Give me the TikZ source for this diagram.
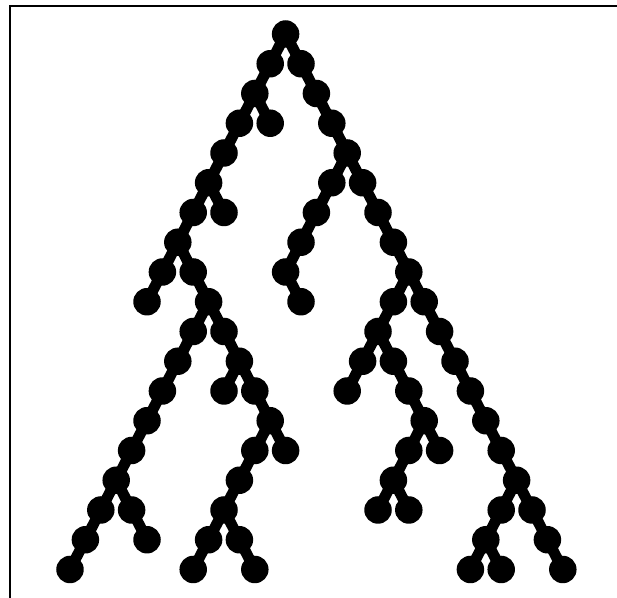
\documentclass[tikz,border=0pt]{standalone}
\usepackage{tikz}
\tikzset{
  bead/.style={circle, fill=black, inner sep=0pt, minimum size=2.75mm},
  link/.style={line width=1.1mm},
  frame/.style={line width=0.16mm},
}
\begin{document}
\begin{tikzpicture}
\useasboundingbox (0,0) rectangle (6.17,-5.98);
\draw[frame] (0.10,-5.98) -- (0.10,-0.06) -- (6.17,-0.06);
% root, then level/column/parent column
\node[bead] (n0-14) at (2.856,-0.34) {};
\foreach \l/\k/\p in {1/13/14, 1/15/14,
  2/12/13, 2/16/15,
  3/11/12, 3/13/12, 3/17/16,
  4/10/11, 4/18/17,
  5/9/10, 5/17/18, 5/19/18,
  6/8/9, 6/10/9, 6/16/17, 6/20/19,
  7/7/8, 7/15/16, 7/21/20,
  8/6/7, 8/8/7, 8/14/15, 8/22/21,
  9/5/6, 9/9/8, 9/15/14, 9/21/22, 9/23/22,
  10/8/9, 10/10/9, 10/20/21, 10/24/23,
  11/7/8, 11/11/10, 11/19/20, 11/21/20, 11/25/24,
  12/6/7, 12/10/11, 12/12/11, 12/18/19, 12/22/21, 12/26/25,
  13/5/6, 13/13/12, 13/23/22, 13/27/26,
  14/4/5, 14/12/13, 14/14/13, 14/22/23, 14/24/23, 14/28/27,
  15/3/4, 15/11/12, 15/21/22, 15/29/28,
  16/2/3, 16/4/3, 16/10/11, 16/20/21, 16/22/21, 16/28/29, 16/30/29,
  17/1/2, 17/5/4, 17/9/10, 17/11/10, 17/27/28, 17/31/30,
  18/0/1, 18/8/9, 18/12/11, 18/26/27, 18/28/27, 18/32/31}{
  \pgfmathtruncatemacro{\u}{\l-1}
  \node[bead] (n\l-\k) at ({0.70+0.154*\k},{-0.34-0.2975*\l}) {};
  \draw[link] (n\u-\p.center) -- (n\l-\k.center);
}
\end{tikzpicture}
\end{document}
